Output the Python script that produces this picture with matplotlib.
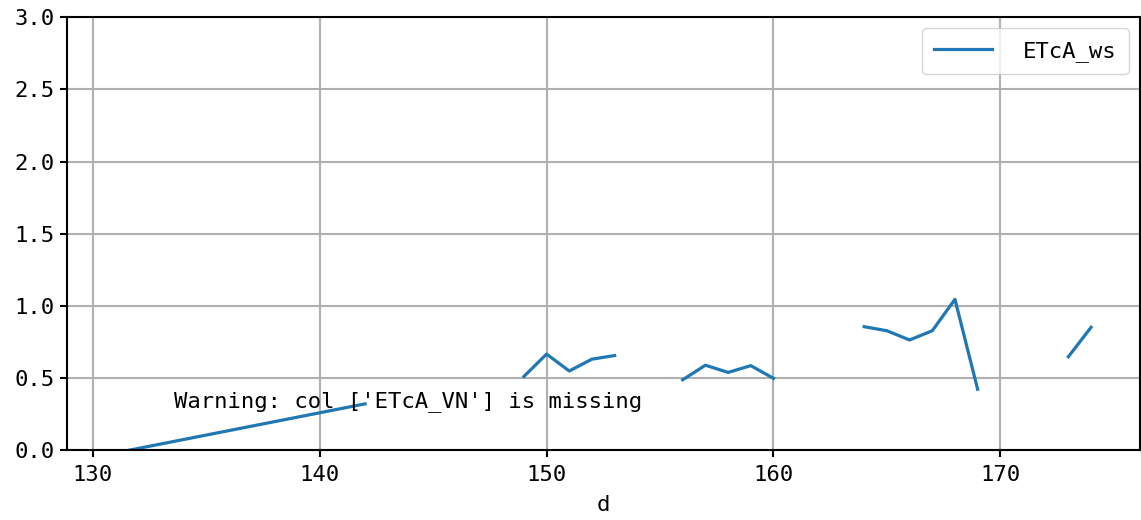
import numpy as np
import matplotlib
matplotlib.use("Agg")
import matplotlib.pyplot as plt

plt.rcParams['font.family'] = ['DejaVu Sans Mono', 'Noto Sans CJK SC']

nan = np.nan
days = [131, 142, 143, 149, 150, 151, 152, 153, 154, 156, 157, 158, 159, 160, 161,
        164, 165, 166, 167, 168, 169, 170, 173, 174]
etca_ws = [-0.02, 0.32, nan, 0.51, 0.665, 0.548, 0.63, 0.655, nan, 0.487, 0.588, 0.538, 0.585, 0.497, nan,
           0.855, 0.827, 0.763, 0.827, 1.045, 0.421, nan, 0.647, 0.851]

fig = plt.figure(figsize=(11.41, 5.20), dpi=100)
ax = fig.add_axes([0.0585, 0.1346, 0.9405, 0.832])
ax.plot(days, etca_ws, color='#1f77b4', lw=2.3, label='ETcA_ws')
ax.set_ylim(0, 3)
ax.set_yticks([0, 0.5, 1.0, 1.5, 2.0, 2.5, 3.0])
ax.set_yticklabels(['0.0', '0.5', '1.0', '1.5', '2.0', '2.5', '3.0'])
ax.grid(True, color='#b0b0b0', lw=1.5)
ax.tick_params(labelsize=16, width=1.5, length=5)
ax.tick_params(axis='x', pad=6)
for s in ax.spines.values():
    s.set_linewidth(1.5)
ax.set_xlabel('d', fontsize=16, labelpad=7)
ax.text(0.1, 0.1, "Warning: col ['ETcA_VN'] is missing", transform=ax.transAxes,
        fontsize=16)
ax.legend(loc='upper right', fontsize=16, handlelength=2.6, handletextpad=1.4,
          borderpad=0.55)
fig.savefig('out.png', dpi=100)
